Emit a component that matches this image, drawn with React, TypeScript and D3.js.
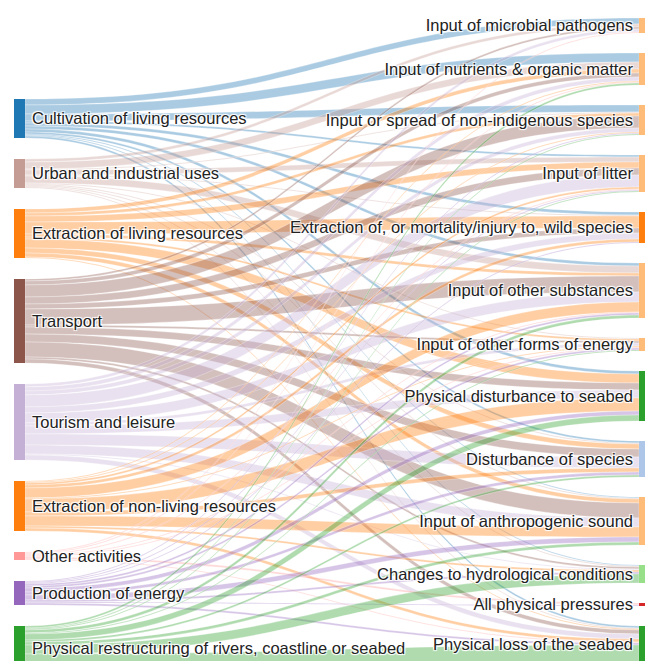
import React, { useEffect, useRef } from "react";
import * as d3 from "d3";

// activities (left column)
const activities = [
  "Cultivation of living resources",
  "Urban and industrial uses",
  "Extraction of living resources",
  "Transport",
  "Tourism and leisure",
  "Extraction of non-living resources",
  "Other activities",
  "Production of energy",
  "Physical restructuring of rivers, coastline or seabed",
];
const activityColors = [
  "#1f77b4", "#c49c94", "#ff7f0e", "#8c564b", "#c5b0d5",
  "#ff7f0e", "#ff9896", "#9467bd", "#2ca02c",
];

// pressures (right column)
const pressures = [
  "Input of microbial pathogens",
  "Input of nutrients & organic matter",
  "Input or spread of non-indigenous species",
  "Input of litter",
  "Extraction of, or mortality/injury to, wild species",
  "Input of other substances",
  "Input of other forms of energy",
  "Physical disturbance to seabed",
  "Disturbance of species",
  "Input of anthropogenic sound",
  "Changes to hydrological conditions",
  "All physical pressures",
  "Physical loss of the seabed",
];
const pressureColors = [
  "#ffbb78", "#ffbb78", "#ffbb78", "#ffbb78", "#ff7f0e", "#ffbb78", "#ffbb78",
  "#2ca02c", "#aec7e8", "#ffbb78", "#98df8a", "#d62728", "#2ca02c",
];

// rows = activities, columns = pressures
const flows = [
  [6, 9, 7, 2, 3, 3, 0, 3, 2, 1, 1, 0, 2],
  [3, 7, 1, 5, 1, 7, 1, 0, 1, 1, 1, 0, 1],
  [0, 4, 3, 6, 12, 3, 2, 9, 5, 4, 0, 0, 1],
  [2, 4, 12, 7, 5, 16, 2, 7, 8, 15, 2, 0, 4],
  [3, 4, 4, 12, 6, 10, 3, 8, 11, 9, 1, 0, 5],
  [0, 1, 1, 2, 3, 10, 1, 13, 4, 10, 2, 0, 3],
  [1, 1, 0, 1, 0, 1, 1, 0, 0, 0, 0, 2, 1],
  [0, 0, 1, 1, 1, 2, 2, 4, 3, 5, 2, 1, 2],
  [0, 2, 1, 1, 0, 3, 1, 6, 2, 3, 9, 0, 17],
];

const width = 645;
const height = 661;
const nodeWidth = 11;

type SNode = { name: string; color: string; value: number; y0: number; y1: number };

export default function App() {
  const svgRef = useRef<SVGSVGElement>(null);

  useEffect(() => {
    const svg = d3.select(svgRef.current);
    svg.selectAll("*").remove();

    const ky = d3.scaleLinear().domain([0, 1]).range([0, 1]);
    const xLeft = 14;
    const xRight = 639;

    const left: SNode[] = activities.map((name, i) => ({
      name, color: activityColors[i], value: d3.sum(flows[i]), y0: 0, y1: 0,
    }));
    const right: SNode[] = pressures.map((name, j) => ({
      name, color: pressureColors[j], value: d3.sum(flows, (r) => r[j]), y0: 0, y1: 0,
    }));

    const stack = (nodes: SNode[], top: number, pad: number) => {
      let y = top;
      nodes.forEach((n) => {
        n.y0 = y;
        n.y1 = y + ky(n.value);
        y = n.y1 + pad;
      });
    };
    stack(left, 99, 21);
    stack(right, 18, 20);

    // band offsets at each end
    const sy = flows.map((r) => r.map(() => 0));
    const ty = flows.map((r) => r.map(() => 0));
    left.forEach((n, i) => {
      let y = n.y0;
      flows[i].forEach((v, j) => { sy[i][j] = y; y += ky(v); });
    });
    right.forEach((n, j) => {
      let y = n.y0;
      flows.forEach((r, i) => { ty[i][j] = y; y += ky(r[j]); });
    });

    const x0 = xLeft + nodeWidth;
    const x1 = xRight;
    const xm = (x0 + x1) / 2;

    const links: { i: number; j: number; v: number }[] = [];
    flows.forEach((r, i) => r.forEach((v, j) => { if (v > 0) links.push({ i, j, v }); }));

    svg.append("g")
      .selectAll("path")
      .data(links)
      .enter()
      .append("path")
      .attr("d", (d) => {
        const a0 = sy[d.i][d.j], a1 = a0 + ky(d.v);
        const b0 = ty[d.i][d.j], b1 = b0 + ky(d.v);
        const p = d3.path();
        p.moveTo(x0, a0);
        p.bezierCurveTo(xm, a0, xm, b0, x1, b0);
        p.lineTo(x1, b1);
        p.bezierCurveTo(xm, b1, xm, a1, x0, a1);
        p.closePath();
        return p.toString();
      })
      .attr("fill", (d) => activityColors[d.i])
      .attr("fill-opacity", 0.38)
      .attr("stroke", "#fff")
      .attr("stroke-opacity", 0.6)
      .attr("stroke-width", 0.5);

    const drawNodes = (nodes: SNode[], x: number) => {
      svg.append("g")
        .selectAll("rect")
        .data(nodes)
        .enter()
        .append("rect")
        .attr("x", x)
        .attr("y", (d) => d.y0)
        .attr("width", nodeWidth)
        .attr("height", (d) => Math.max(1, d.y1 - d.y0))
        .attr("fill", (d) => d.color);
    };
    drawNodes(left, xLeft);
    drawNodes(right, xRight);

    const shadow = "1px 1px 1px #fff, -1px -1px 1px #fff, 1px -1px 1px #fff, -1px 1px 1px #fff";
    const drawLabels = (nodes: SNode[], x: number, anchor: string) => {
      svg.append("g")
        .selectAll("text")
        .data(nodes)
        .enter()
        .append("text")
        .attr("x", x)
        .attr("y", (d) => (d.y0 + d.y1) / 2)
        .attr("dy", "0.35em")
        .attr("text-anchor", anchor)
        .style("font-family", "'Liberation Sans', Arial, sans-serif")
        .style("font-size", "16.5px")
        .style("fill", "#222")
        .style("text-shadow", shadow)
        .text((d) => d.name);
    };
    drawLabels(left, x0 + 7, "start");
    drawLabels(right, xRight - 6, "end");
  }, []);

  return (
    <svg
      ref={svgRef}
      width={width}
      height={height}
      style={{ position: "absolute", left: 0, top: 0, background: "#fff" }}
    />
  );
}
